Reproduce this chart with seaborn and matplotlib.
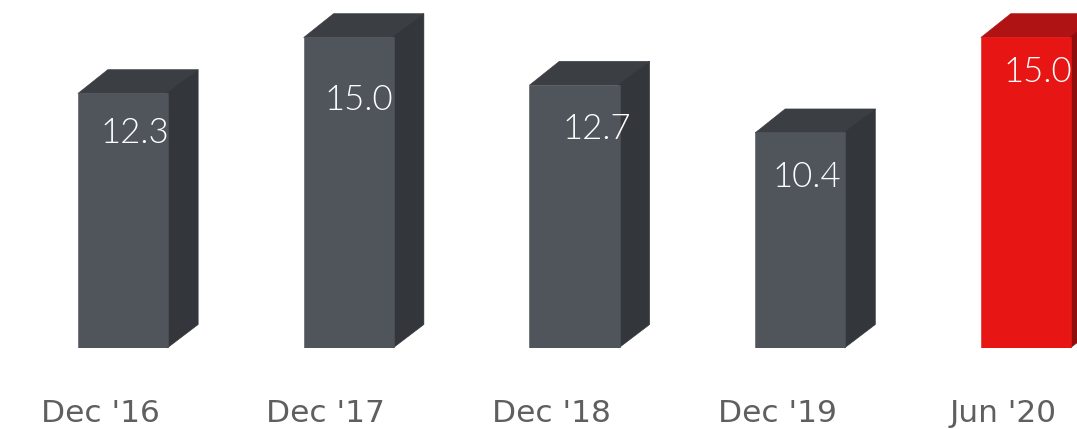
import matplotlib
matplotlib.use("Agg")
import matplotlib.pyplot as plt
from matplotlib.patches import Polygon
from matplotlib.transforms import ScaledTranslation
import seaborn as sns
import pandas as pd

# Period-end values
periods = ["Dec '16", "Dec '17", "Dec '18", "Dec '19", "Jun '20"]
values = [12.3, 15.0, 12.7, 10.4, 15.0]

# Face colours (front, top, side) for historic and latest periods
gray_faces = ("#50545b", "#3b3e43", "#33363a")
red_faces = ("#e81515", "#b01313", "#8e0e0e")
face_sets = [gray_faces, gray_faces, gray_faces, gray_faces, red_faces]

# Label nudges in pixels (dx, dy) relative to the bar's top-centre
label_nudge = [(12, 40), (10, 63), (22, 44), (7, 45), (12, 35)]

DPI = 100
sns.set_theme(style="white")
plt.rcParams["font.family"] = ["Lato", "DejaVu Sans"]

fig = plt.figure(figsize=(10.77, 4.29), dpi=DPI)
ax = fig.add_axes([0, 81 / 429, 1, 348 / 429])

df = pd.DataFrame({"period": periods, "value": values})
sns.barplot(data=df, x="period", y="value", hue="period",
            palette=[f[0] for f in face_sets], legend=False,
            width=0.4, saturation=1, ax=ax, zorder=3)

ax.set_xlim(-0.545, 4.226)
ax.set_ylim(0, 16.79)

# Depth of the 3-D extrusion, in pixels
depth_px = (30, 23.5)
px_x = ax.get_xlim()[1] - ax.get_xlim()[0]
px_y = ax.get_ylim()[1] - ax.get_ylim()[0]
ddx = depth_px[0] * px_x / (fig.get_figwidth() * DPI)
ddy = depth_px[1] * px_y / (fig.get_figheight() * DPI * 348 / 429)
eps = 0.004

for bar, faces, val, (nx, ny) in zip(ax.patches, face_sets, values, label_nudge):
    bar.set_edgecolor(faces[0])
    bar.set_linewidth(0.4)
    x0 = bar.get_x()
    w = bar.get_width()
    h = bar.get_height()
    top = Polygon([(x0, h - 0.02), (x0 + ddx, h + ddy), (x0 + w + ddx, h + ddy), (x0 + w, h - 0.02)],
                  closed=True, facecolor=faces[1], edgecolor=faces[1], linewidth=0.4,
                  zorder=2, clip_on=False)
    side = Polygon([(x0 + w - eps, 0), (x0 + w - eps, h), (x0 + w + ddx, h + ddy), (x0 + w + ddx, ddy)],
                   closed=True, facecolor=faces[2], edgecolor=faces[2], linewidth=0.4,
                   zorder=2, clip_on=False)
    ax.add_patch(top)
    ax.add_patch(side)
    t = ax.text(x0 + w / 2, h, f"{val:.1f}", ha="center", va="center",
                color="white", fontsize=25, fontweight=300, zorder=5)
    t.set_transform(ax.transData + ScaledTranslation(nx / DPI, -ny / DPI, fig.dpi_scale_trans))

ax.set_xlabel("")
ax.set_ylabel("")
ax.set_yticks([])
ax.tick_params(axis="x", length=0, pad=37, labelcolor="#5f5f5f")
for lab in ax.get_xticklabels():
    lab.set_fontfamily(["DejaVu Sans"])
    lab.set_fontsize(22.5)
    lab.set_transform(lab.get_transform() + ScaledTranslation(-23 / DPI, 0, fig.dpi_scale_trans))
for s in ax.spines.values():
    s.set_visible(False)
ax.set_facecolor("white")
ax.patch.set_alpha(0)

fig.savefig("out.png", dpi=DPI, facecolor="white")
